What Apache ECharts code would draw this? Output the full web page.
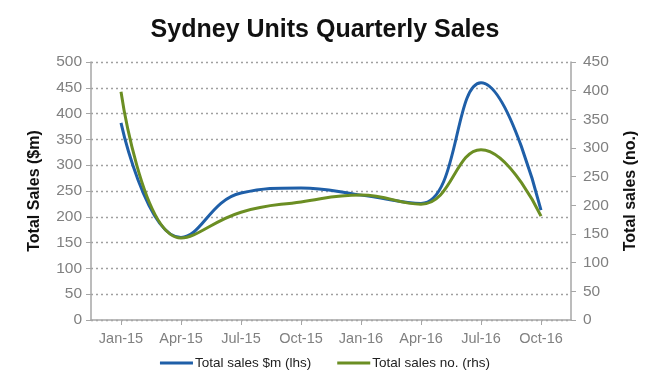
<!DOCTYPE html>
<html><head><meta charset="utf-8">
<script src="https://cdn.jsdelivr.net/npm/echarts@6/dist/echarts.min.js"></script>
<style>html,body{margin:0;padding:0;background:#fff}#c{width:650px;height:392px}</style>
</head><body><div id="c"></div>
<script>
var categories = ['Jan-15','Apr-15','Jul-15','Oct-15','Jan-16','Apr-16','Jul-16','Oct-16'];
var salesValue = [382, 160, 246, 256, 242, 226, 460, 213];
var salesCount = [398, 143, 188, 206, 218, 202, 297, 181];
var leftTicks = [0, 500, 50];
var rightTicks = [0, 450, 50];

var chart = echarts.init(document.getElementById('c'));
var labelStyle = {color:'#808080', fontSize:15.5, fontFamily:'Arial, Liberation Sans'};
var axisLine = {show:true, lineStyle:{color:'#a6a6a6', width:1.5}};
chart.setOption({
  animation:false,
  title:{text:'Sydney Units Quarterly Sales', left:'center', top:13,
    textStyle:{fontSize:25, fontWeight:'bold', color:'#111', fontFamily:'Arial, Liberation Sans'}},
  legend:{bottom:17, left:'center', itemWidth:33, itemHeight:3, itemGap:26, icon:'rect',
    textStyle:{fontSize:13.5, color:'#222', fontFamily:'Arial, Liberation Sans', padding:[0,0,0,-3]},
    data:['Total sales $m (lhs)','Total sales no. (rhs)']},
  grid:{left:91, right:79, top:62, bottom:72},
  xAxis:{type:'category', data:categories, boundaryGap:true,
    axisLine:axisLine, axisTick:{show:true, alignWithLabel:true, length:5, lineStyle:{color:'#a6a6a6'}},
    axisLabel:Object.assign({margin:11, interval:0, hideOverlap:false}, labelStyle, {fontSize:14.5})},
  yAxis:[
    {type:'value', min:leftTicks[0], max:leftTicks[1], interval:leftTicks[2],
     name:'Total Sales ($m)', nameLocation:'middle', nameGap:48, nameRotate:90,
     nameTextStyle:{fontSize:16, fontWeight:'bold', color:'#111', fontFamily:'Arial, Liberation Sans'},
     axisLine:axisLine, axisTick:{show:true, length:5, lineStyle:{color:'#a6a6a6'}},
     axisLabel:Object.assign({margin:9}, labelStyle),
     splitLine:{show:true, lineStyle:{color:'#a0a0a0', type:[2,3], width:1.3}}},
    {type:'value', min:rightTicks[0], max:rightTicks[1], interval:rightTicks[2], position:'right',
     name:'Total sales (no.)', nameLocation:'middle', nameGap:52, nameRotate:90,
     nameTextStyle:{fontSize:16, fontWeight:'bold', color:'#111', fontFamily:'Arial, Liberation Sans'},
     axisLine:axisLine, axisTick:{show:true, length:5, lineStyle:{color:'#a6a6a6'}},
     axisLabel:Object.assign({margin:12}, labelStyle),
     splitLine:{show:false}}
  ],
  series:[
    {name:'Total sales $m (lhs)', type:'line', yAxisIndex:0, data:salesValue, smooth:0.45,
     symbol:'none', lineStyle:{color:'#1f5fa8', width:3}, itemStyle:{color:'#1f5fa8'}},
    {name:'Total sales no. (rhs)', type:'line', yAxisIndex:1, data:salesCount, smooth:0.45,
     symbol:'none', lineStyle:{color:'#6b8e23', width:3}, itemStyle:{color:'#6b8e23'}}
  ]
});
</script></body></html>
